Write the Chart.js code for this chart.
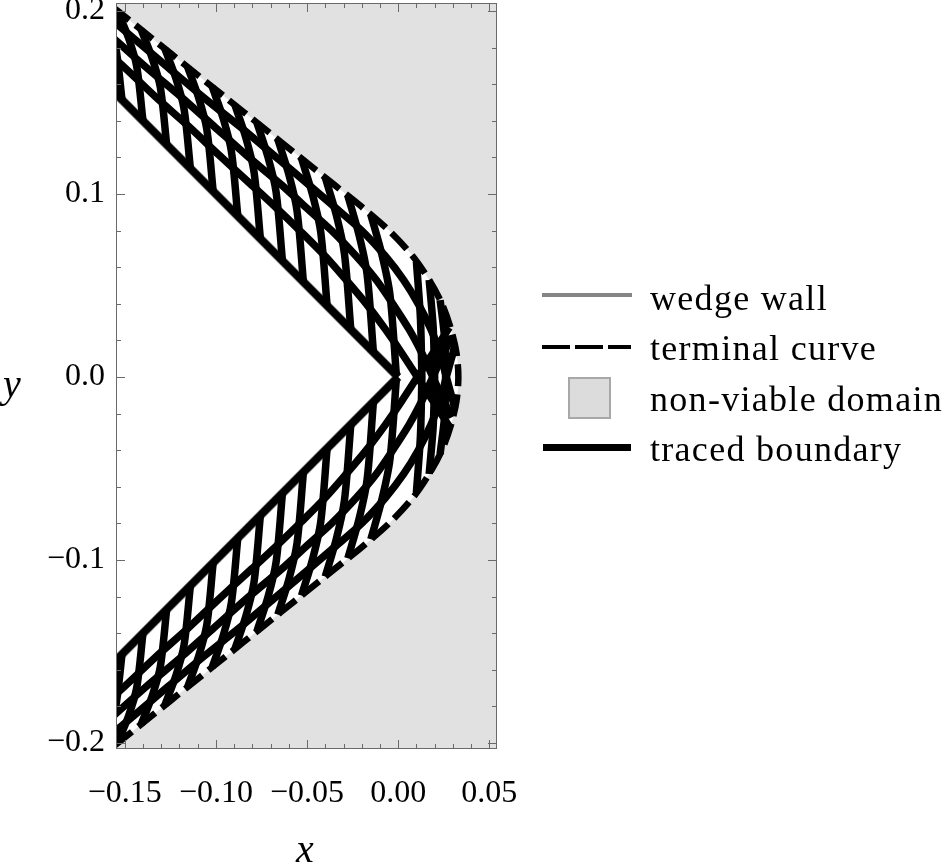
<!DOCTYPE html>
<html>
<head>
<meta charset="utf-8">
<script src="https://cdn.jsdelivr.net/npm/chart.js@4.4.1/dist/chart.umd.min.js"></script>
<style>
  body { margin: 0; background: #fff; }
  #wrap { position: relative; width: 946px; height: 868px; overflow: hidden; }
  #chart { position: absolute; left: 0; top: 0; }
  .txt { position: absolute; font-family: 'Liberation Serif', serif; font-size: 36px; line-height: 40px; letter-spacing: 1.3px; white-space: nowrap; color: #000; }
  .ax { position: absolute; font-family: 'Liberation Serif', serif; font-style: italic; font-size: 40px; line-height: 44px; color: #000; }
  .key { position: absolute; }
</style>
</head>
<body>
<div id="wrap">
  <canvas id="chart" width="946" height="868"></canvas>
  <div class="ax" style="left:255px; top:827px; width:100px; text-align:center;">x</div>
  <div class="ax" style="left:3px; top:362px;">y</div>

  <div class="key" style="left:542px; top:293px; width:90px; height:4px; background:#858585;"></div>
  <div class="txt" style="left:650px; top:278px;">wedge wall</div>
  <div class="key" style="left:542px; top:345px; width:89px; height:4px; background:repeating-linear-gradient(90deg,#000 0 28px,transparent 28px 33px);"></div>
  <div class="txt" style="left:650px; top:328px;">terminal curve</div>
  <div class="key" style="left:568px; top:377px; width:43px; height:42px; box-sizing:border-box; background:#dcdcdc; border:2px solid #a8a8a8;"></div>
  <div class="txt" style="left:650px; top:379px;">non-viable domain</div>
  <div class="key" style="left:543px; top:444px; width:88px; height:7px; background:#000;"></div>
  <div class="txt" style="left:650px; top:429px;">traced boundary</div>
</div>
<script>
// axes
const xRange = [-0.1548, 0.0542];
const yRange = [-0.2033, 0.2044];
const xTicks = [-0.15, -0.10, -0.05, 0.00, 0.05];
const xTickLabels = ['\u22120.15', '\u22120.10', '\u22120.05', '0.00', '0.05'];
const yTicks = [-0.2, -0.1, 0.0, 0.1, 0.2];
const yTickLabels = ['\u22120.2', '\u22120.1', '0.0', '0.1', '0.2'];
const xMinorTicks = [-0.15, -0.14, -0.13, -0.12, -0.11, -0.10, -0.09, -0.08, -0.07, -0.06, -0.05,
  -0.04, -0.03, -0.02, -0.01, 0.00, 0.01, 0.02, 0.03, 0.04, 0.05];
const yMinorTicks = [-0.20, -0.18, -0.16, -0.14, -0.12, -0.10, -0.08, -0.06, -0.04, -0.02, 0.00,
  0.02, 0.04, 0.06, 0.08, 0.10, 0.12, 0.14, 0.16, 0.18, 0.20];

// wedge wall
const wallUpper = [[-0.16, 0.16], [0, 0]];
const wallLower = [[-0.16, -0.16], [0, 0]];

// terminal curve (upper from the left edge to the tip, lower from the tip back out)
const terminalUpper = [[-0.157, 0.2025], [-0.155, 0.201], [-0.135, 0.185], [-0.115, 0.169], [-0.095, 0.153],
  [-0.075, 0.137], [-0.055, 0.121], [-0.035, 0.105], [-0.020, 0.093], [-0.005, 0.080], [0.008, 0.066],
  [0.017, 0.053], [0.024, 0.040], [0.029, 0.026], [0.032, 0.013], [0.033, 0]];
const terminalLower = [[0.032, -0.013], [0.029, -0.026], [0.024, -0.040], [0.017, -0.053], [0.008, -0.066],
  [-0.005, -0.080], [-0.020, -0.093], [-0.035, -0.105], [-0.055, -0.121], [-0.075, -0.137], [-0.095, -0.153],
  [-0.115, -0.169], [-0.135, -0.185], [-0.155, -0.201], [-0.157, -0.2025]];
// outer corners of the non-viable region
const nonViableTop = [[0.1, 0.3], [-0.2, 0.3], [-0.2, 0.235]];
const nonViableBottom = [[-0.2, -0.235], [-0.2, -0.3], [0.1, -0.3]];

// traced boundaries: the long diagonals
const diagUpper1 = [[-0.168, 0.185], [-0.150, 0.169], [-0.133, 0.153], [-0.115, 0.137], [-0.098, 0.121],
  [-0.0805, 0.105], [-0.0675, 0.093], [-0.054, 0.080], [-0.040, 0.066], [-0.0285, 0.053], [-0.0175, 0.040],
  [-0.007, 0.026], [0.002, 0.013], [0.0105, 0], [0.019, -0.013], [0.028, -0.027]];
const diagUpper2 = [[-0.174, 0.201], [-0.156, 0.185], [-0.138, 0.169], [-0.119, 0.153], [-0.101, 0.137],
  [-0.083, 0.121], [-0.064, 0.105], [-0.051, 0.093], [-0.0365, 0.080], [-0.023, 0.066], [-0.012, 0.053],
  [-0.003, 0.040], [0.006, 0.026], [0.013, 0.013], [0.019, 0], [0.025, -0.013], [0.0295, -0.022]];
const diagUpper3 = [[-0.164, 0.201], [-0.145, 0.185], [-0.126, 0.169], [-0.107, 0.153], [-0.087, 0.137],
  [-0.068, 0.121], [-0.049, 0.105], [-0.035, 0.093], [-0.020, 0.080], [-0.007, 0.066], [0.003, 0.053],
  [0.011, 0.040], [0.018, 0.026], [0.023, 0.013], [0.0264, 0], [0.030, -0.013], [0.031, -0.017]];
const diagLower1 = [[-0.168, -0.185], [-0.150, -0.169], [-0.133, -0.153], [-0.115, -0.137], [-0.098, -0.121],
  [-0.0805, -0.105], [-0.0675, -0.093], [-0.054, -0.080], [-0.040, -0.066], [-0.0285, -0.053], [-0.0175, -0.040],
  [-0.007, -0.026], [0.002, -0.013], [0.0105, 0], [0.019, 0.013], [0.028, 0.027]];
const diagLower2 = [[-0.174, -0.201], [-0.156, -0.185], [-0.138, -0.169], [-0.119, -0.153], [-0.101, -0.137],
  [-0.083, -0.121], [-0.064, -0.105], [-0.051, -0.093], [-0.0365, -0.080], [-0.023, -0.066], [-0.012, -0.053],
  [-0.003, -0.040], [0.006, -0.026], [0.013, -0.013], [0.019, 0], [0.025, 0.013], [0.0295, 0.022]];
const diagLower3 = [[-0.164, -0.201], [-0.145, -0.185], [-0.126, -0.169], [-0.107, -0.153], [-0.087, -0.137],
  [-0.068, -0.121], [-0.049, -0.105], [-0.035, -0.093], [-0.020, -0.080], [-0.007, -0.066], [0.003, -0.053],
  [0.011, -0.040], [0.018, -0.026], [0.023, -0.013], [0.0264, 0], [0.030, 0.013], [0.031, 0.017]];

// traced boundaries: the bent arcs from the wall (or the axis) out to the terminal curve
const arcsUpper = [
  [[-0.1515, 0.1515], [-0.1550, 0.1805], [-0.1594, 0.195], [-0.1655, 0.2094]],
  [[-0.140, 0.140], [-0.1435, 0.1701], [-0.1479, 0.1852], [-0.154, 0.2002]],
  [[-0.127, 0.127], [-0.1305, 0.1584], [-0.1349, 0.1741], [-0.141, 0.1898]],
  [[-0.114, 0.114], [-0.1175, 0.1467], [-0.1219, 0.1631], [-0.128, 0.1794]],
  [[-0.1015, 0.1015], [-0.105, 0.1355], [-0.1094, 0.1524], [-0.1155, 0.1694]],
  [[-0.088, 0.088], [-0.0915, 0.1233], [-0.0959, 0.1410], [-0.102, 0.1586]],
  [[-0.0756, 0.0756], [-0.0791, 0.1122], [-0.0835, 0.1305], [-0.0896, 0.1487]],
  [[-0.0635, 0.0635], [-0.067, 0.1013], [-0.0714, 0.1201], [-0.0775, 0.139]],
  [[-0.052, 0.052], [-0.0555, 0.0909], [-0.0599, 0.1104], [-0.066, 0.1298]],
  [[-0.039, 0.039], [-0.0425, 0.0792], [-0.0469, 0.0993], [-0.053, 0.1194]],
  [[-0.026, 0.026], [-0.0295, 0.0675], [-0.0339, 0.0883], [-0.040, 0.109]],
  [[-0.0136, 0.0136], [-0.0171, 0.0564], [-0.0215, 0.0777], [-0.0276, 0.0991]],
  [[-0.001, 0.001], [-0.0045, 0.0449], [-0.0089, 0.0668], [-0.015, 0.0887]],
  [[0.013, 0], [0.0122, 0.032], [0.010, 0.063]],
  [[0.020, 0], [0.0192, 0.027], [0.017, 0.053]],
  [[0.026, 0], [0.0255, 0.021], [0.023, 0.042]]
];
const arcsLower = [
  [[-0.1515, -0.1515], [-0.1550, -0.1805], [-0.1594, -0.195], [-0.1655, -0.2094]],
  [[-0.140, -0.140], [-0.1435, -0.1701], [-0.1479, -0.1852], [-0.154, -0.2002]],
  [[-0.127, -0.127], [-0.1305, -0.1584], [-0.1349, -0.1741], [-0.141, -0.1898]],
  [[-0.114, -0.114], [-0.1175, -0.1467], [-0.1219, -0.1631], [-0.128, -0.1794]],
  [[-0.1015, -0.1015], [-0.105, -0.1355], [-0.1094, -0.1524], [-0.1155, -0.1694]],
  [[-0.088, -0.088], [-0.0915, -0.1233], [-0.0959, -0.1410], [-0.102, -0.1586]],
  [[-0.0756, -0.0756], [-0.0791, -0.1122], [-0.0835, -0.1305], [-0.0896, -0.1487]],
  [[-0.0635, -0.0635], [-0.067, -0.1013], [-0.0714, -0.1201], [-0.0775, -0.139]],
  [[-0.052, -0.052], [-0.0555, -0.0909], [-0.0599, -0.1104], [-0.066, -0.1298]],
  [[-0.039, -0.039], [-0.0425, -0.0792], [-0.0469, -0.0993], [-0.053, -0.1194]],
  [[-0.026, -0.026], [-0.0295, -0.0675], [-0.0339, -0.0883], [-0.040, -0.109]],
  [[-0.0136, -0.0136], [-0.0171, -0.0564], [-0.0215, -0.0777], [-0.0276, -0.0991]],
  [[-0.001, -0.001], [-0.0045, -0.0449], [-0.0089, -0.0668], [-0.015, -0.0887]],
  [[0.013, 0], [0.0122, -0.032], [0.010, -0.063]],
  [[0.020, 0], [0.0192, -0.027], [0.017, -0.053]],
  [[0.026, 0], [0.0255, -0.021], [0.023, -0.042]]
];

const isMajor = (list, v) => list.some(t => Math.abs(t - v) < 1e-9);

// frame with inward ticks on all four sides, like the original
const framePlugin = {
  id: 'frame',
  afterDatasetsDraw(chart) {
    const { ctx, chartArea: a, scales: { x, y } } = chart;
    ctx.save();
    ctx.strokeStyle = '#6a6a6a';
    ctx.lineWidth = 1;
    ctx.strokeRect(a.left + 0.5, a.top + 0.5, a.right - a.left - 1, a.bottom - a.top - 1);
    ctx.beginPath();
    xMinorTicks.forEach(v => {
      const px = Math.round(x.getPixelForValue(v)) + 0.5;
      const len = isMajor(xTicks, v) ? 9 : 5;
      ctx.moveTo(px, a.bottom); ctx.lineTo(px, a.bottom - len);
      ctx.moveTo(px, a.top); ctx.lineTo(px, a.top + len);
    });
    yMinorTicks.forEach(v => {
      const py = Math.round(y.getPixelForValue(v)) + 0.5;
      const len = isMajor(yTicks, v) ? 9 : 5;
      ctx.moveTo(a.left, py); ctx.lineTo(a.left + len, py);
      ctx.moveTo(a.right, py); ctx.lineTo(a.right - len, py);
    });
    ctx.stroke();
    ctx.restore();
  }
};

const traced = (pts) => ({
  label: 'traced boundary',
  data: pts,
  showLine: true,
  borderColor: '#000',
  borderWidth: 7.5,
  tension: 0.3,
  pointRadius: 0,
  clip: 0,
  order: 2
});

const datasets = [
  {
    label: 'non-viable domain',
    data: [...nonViableTop, ...terminalUpper, ...terminalLower, ...nonViableBottom],
    showLine: true,
    fill: 'shape',
    backgroundColor: '#e1e1e1',
    borderColor: 'rgba(0,0,0,0)',
    borderWidth: 0,
    tension: 0.3,
    pointRadius: 0,
    clip: 0,
    order: 10
  },
  { label: 'wedge wall', data: wallUpper, showLine: true, borderColor: '#858585', borderWidth: 9, pointRadius: 0, clip: 0, order: 5 },
  { label: 'wedge wall', data: wallLower, showLine: true, borderColor: '#858585', borderWidth: 9, pointRadius: 0, clip: 0, order: 5 },
  traced(wallUpper), traced(wallLower),
  traced(diagUpper1), traced(diagUpper2), traced(diagUpper3),
  traced(diagLower1), traced(diagLower2), traced(diagLower3),
  ...arcsUpper.map(traced), ...arcsLower.map(traced),
  {
    label: 'terminal curve',
    data: [...terminalUpper, ...terminalLower],
    showLine: true,
    borderColor: '#000',
    borderWidth: 6.5,
    borderDash: [22, 8],
    tension: 0.3,
    pointRadius: 0,
    clip: 0,
    order: 0
  }
];

new Chart(document.getElementById('chart'), {
  type: 'scatter',
  data: { datasets: datasets },
  options: {
    responsive: false,
    animation: false,
    devicePixelRatio: 1,
    layout: { padding: { left: 0, top: 3, right: 449, bottom: 0 } },
    elements: { line: { capBezierPoints: false, borderCapStyle: 'butt' } },
    plugins: { legend: { display: false }, tooltip: { enabled: false } },
    scales: {
      x: {
        type: 'linear',
        min: xRange[0],
        max: xRange[1],
        afterFit: (s) => { s.height = 119; s.paddingLeft = 0; s.paddingRight = 0; },
        afterBuildTicks: (s) => { s.ticks = xTicks.map(v => ({ value: v })); },
        grid: { display: false, drawTicks: false },
        border: { display: false },
        ticks: {
          autoSkip: false,
          maxRotation: 0,
          padding: 25,
          color: '#000',
          font: { family: "'Liberation Serif', serif", size: 32 },
          callback: (v, i) => xTickLabels[i]
        }
      },
      y: {
        type: 'linear',
        min: yRange[0],
        max: yRange[1],
        afterFit: (s) => { s.width = 116; s.paddingTop = 0; s.paddingBottom = 0; },
        afterBuildTicks: (s) => { s.ticks = yTicks.map(v => ({ value: v })); },
        grid: { display: false, drawTicks: false },
        border: { display: false },
        ticks: {
          autoSkip: false,
          padding: 11,
          color: '#000',
          font: { family: "'Liberation Serif', serif", size: 32 },
          callback: (v, i) => yTickLabels[i]
        }
      }
    }
  },
  plugins: [framePlugin]
});
</script>
</body>
</html>
